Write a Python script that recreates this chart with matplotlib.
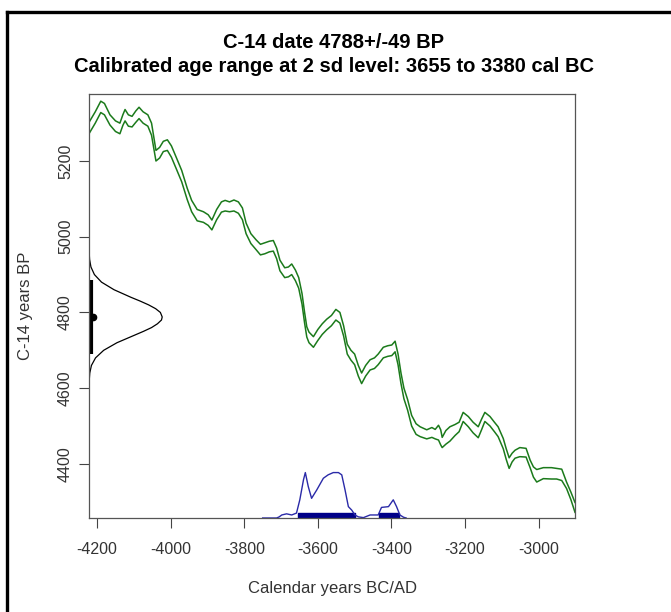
import numpy as np
import matplotlib
matplotlib.use("Agg")
import matplotlib.pyplot as plt
from matplotlib.lines import Line2D

plt.rcParams['font.family'] = ['Liberation Sans', 'DejaVu Sans']

# --- values ---
c14_mean = 4788
c14_sd = 49
cal_range = (-3655, -3380)

# calibration curve (two lines of the band)
cal_x = [-4222, -4205, -4190, -4180, -4165, -4150, -4138, -4130, -4124, -4115,
         -4105, -4095, -4086, -4075, -4062, -4052, -4040, -4030, -4020, -4009,
         -3998, -3985, -3970, -3955, -3943, -3928, -3911, -3898, -3888, -3875,
         -3862, -3852, -3840, -3828, -3816, -3805, -3795, -3782, -3768, -3756,
         -3744, -3732, -3721, -3712, -3703, -3690, -3680, -3671, -3661, -3652,
         -3643, -3636, -3630, -3624, -3612, -3600, -3588, -3576, -3563, -3551,
         -3540, -3530, -3520, -3510, -3500, -3490, -3481, -3470, -3458, -3446,
         -3436, -3422, -3410, -3399, -3390, -3382, -3374, -3366, -3356, -3345,
         -3333, -3322, -3304, -3290, -3281, -3272, -3266, -3262, -3252, -3241,
         -3227, -3216, -3205, -3191, -3178, -3164, -3155, -3146, -3132, -3120,
         -3110, -3096, -3088, -3080, -3072, -3064, -3051, -3034, -3023, -3014,
         -3005, -2987, -2965, -2951, -2937, -2924, -2912, -2901]
cal_upper = [5302, 5330, 5358, 5352, 5322, 5306, 5300, 5322, 5336, 5322,
             5318, 5332, 5342, 5330, 5322, 5300, 5228, 5236, 5252, 5256,
             5240, 5210, 5175, 5128, 5096, 5072, 5066, 5058, 5044, 5072,
             5092, 5096, 5092, 5097, 5092, 5076, 5036, 5008, 4992, 4980,
             4984, 4988, 4990, 4970, 4938, 4918, 4920, 4928, 4912, 4892,
             4850, 4800, 4762, 4748, 4736, 4755, 4770, 4782, 4792, 4808,
             4800, 4765, 4716, 4700, 4690, 4660, 4640, 4660, 4675, 4680,
             4690, 4708, 4712, 4714, 4724, 4690, 4640, 4600, 4570, 4528,
             4506, 4498, 4490, 4496, 4491, 4502, 4490, 4470, 4488, 4498,
             4504, 4510, 4536, 4525, 4510, 4498, 4518, 4536, 4525, 4510,
             4498, 4467, 4440, 4416, 4428, 4436, 4443, 4441, 4410, 4392,
             4385, 4390, 4390, 4388, 4386, 4352, 4325, 4298]
cal_lower = [5272, 5300, 5328, 5322, 5295, 5278, 5272, 5294, 5306, 5292,
             5290, 5302, 5312, 5300, 5292, 5268, 5200, 5208, 5225, 5228,
             5210, 5180, 5145, 5098, 5066, 5042, 5038, 5030, 5018, 5045,
             5065, 5068, 5066, 5068, 5062, 5045, 5008, 4982, 4966, 4952,
             4955, 4960, 4962, 4942, 4910, 4892, 4894, 4900, 4884, 4864,
             4822, 4772, 4735, 4720, 4708, 4726, 4742, 4754, 4765, 4780,
             4772, 4738, 4690, 4674, 4662, 4632, 4612, 4632, 4648, 4652,
             4662, 4680, 4684, 4686, 4696, 4662, 4612, 4572, 4542, 4500,
             4478, 4472, 4466, 4470, 4466, 4463, 4450, 4443, 4452, 4460,
             4475, 4485, 4512, 4498, 4482, 4469, 4490, 4512, 4500, 4485,
             4472, 4440, 4412, 4388, 4405, 4415, 4419, 4418, 4390, 4365,
             4352, 4361, 4360, 4360, 4356, 4335, 4305, 4272]

# C-14 date distribution drawn on the y axis (C14 age, width in years)
date_c14 = [4620, 4640, 4660, 4680, 4700, 4720, 4740, 4750, 4760, 4770, 4780, 4788,
            4800, 4810, 4820, 4830, 4840, 4860, 4880, 4900, 4920, 4940, 4960]
date_width = [0.6, 2.1, 6.6, 17.8, 39.9, 76, 124, 148, 170, 186, 197, 199,
              194, 181, 162, 139, 114, 68, 34, 14.7, 5.3, 1.6, 0.4]

# calibrated probability (height in C14 units above the bottom)
prob_x = [-3750, -3712, -3705, -3698, -3685, -3671, -3658, -3649, -3639, -3634,
          -3626, -3617, -3603, -3585, -3572, -3558, -3544, -3535, -3526, -3517,
          -3508, -3499, -3490, -3476, -3458, -3436, -3427, -3408, -3395, -3386,
          -3377, -3367, -3360]
prob_h = [0, 0, 3, 8, 11, 8, 13, 48, 101, 120,
          83, 52, 74, 105, 114, 120, 120, 114, 74, 30,
          21, 8, 3, 1, 8, 8, 28, 30, 48, 30,
          8, 2, 0]

# 2 sd ranges (bars on the x axis)
range_starts = [-3655, -3435]
range_ends = [-3500, -3380]

x_ticks = [-4200, -4000, -3800, -3600, -3400, -3200, -3000]
y_ticks = [4400, 4600, 4800, 5000, 5200]
xlim = (-4222, -2901)
ylim = (4257, 5377)

fig = plt.figure(figsize=(6.71, 6.12), dpi=100)
ax = fig.add_axes([89/671, 1 - 518/612, 486/671, 424/612])

green = '#1b7a1b'
ax.plot(cal_x, cal_upper, color=green, lw=1.1)
ax.plot(cal_x, cal_lower, color=green, lw=1.1)

# C-14 date on y axis
ax.plot(xlim[0] + np.array(date_width), date_c14, color='black', lw=0.9)
ax.vlines(xlim[0] + 5, c14_mean - 2 * c14_sd, c14_mean + 2 * c14_sd,
          color='black', lw=3)
ax.plot([xlim[0] + 12], [c14_mean], 'o', color='black', ms=4.5)

# calibrated distribution on x axis
ax.plot(prob_x, ylim[0] + np.array(prob_h), color='#2a2aa8', lw=1)
for s, e in zip(range_starts, range_ends):
    ax.broken_barh([(s, e - s)], (ylim[0], 13), color='#000088')

ax.set_xlim(xlim)
ax.set_ylim(ylim)
ax.set_xticks(x_ticks)
ax.set_yticks(y_ticks)
ax.set_xticklabels([str(v) for v in x_ticks])
ax.set_yticklabels([str(v) for v in y_ticks], rotation=90, va='center')

for sp in ax.spines.values():
    sp.set_color('#555555')
    sp.set_linewidth(0.9)
ax.tick_params(length=7, width=0.8, color='#444444', labelcolor='#333333',
               labelsize=11.5)
ax.tick_params(axis='x', pad=10)
ax.tick_params(axis='y', pad=4.5)

ax.set_xlabel('Calendar years BC/AD', fontsize=12, color='#333333')
ax.set_ylabel('C-14 years BP', fontsize=12, color='#333333')
ax.xaxis.set_label_coords(0.5, (518 - 581) / 424)
ax.yaxis.set_label_coords((33 - 89) / 486, 0.5)

fig.text(334/671, 1 - 43/612, 'C-14 date 4788+/-49 BP', ha='center', va='center',
         fontsize=14.5, fontweight='bold')
fig.text(334/671, 1 - 67/612, 'Calibrated age range at 2 sd level: 3655 to 3380 cal BC',
         ha='center', va='center', fontsize=14.5, fontweight='bold')

# frame around the figure (only left and top edges are visible)
fig.add_artist(Line2D([7/671, 7/671], [0, 1 - 12/612], color='black', lw=2.4,
                      transform=fig.transFigure))
fig.add_artist(Line2D([7/671, 1], [1 - 12/612, 1 - 12/612], color='black', lw=2.4,
                      transform=fig.transFigure))

fig.savefig('out.png', dpi=100)
